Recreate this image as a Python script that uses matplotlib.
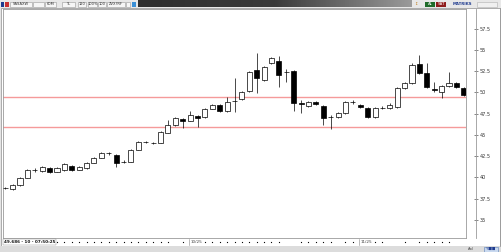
"""Candlestick screen with two support/resistance lines."""
import matplotlib
matplotlib.use("Agg")
import matplotlib.pyplot as plt
from matplotlib.patches import Rectangle
import numpy as np

# candle data (open, high, low, close)
opens = [38.75, 38.65, 39.1, 39.95, 40.85, 40.75, 41.1, 40.65, 40.9, 41.35,
         40.9, 41.1, 41.7, 42.3, 42.85, 42.65, 41.8, 41.85, 43.25, 44.15,
         44.1, 44.05, 45.25, 46.2, 46.9, 46.65, 47.25, 47.1, 48.05, 48.5,
         47.8, 49.0, 49.25, 50.2, 52.65, 51.45, 53.45, 53.7, 52.4, 52.55,
         48.75, 48.4, 48.9, 48.4, 47.1, 47.15, 47.6, 48.85, 48.55, 48.2,
         47.1, 48.15, 48.2, 48.3, 50.55, 51.1, 53.35, 52.3, 50.35, 50.05,
         50.75, 51.1, 50.5]
highs = [38.85, 39.2, 40.05, 41.0, 41.1, 41.35, 41.2, 41.2, 41.75, 41.45,
         41.3, 41.8, 42.4, 43.0, 43.05, 42.75, 42.0, 43.35, 44.3, 44.35,
         44.2, 45.45, 46.8, 47.1, 47.0, 47.8, 47.35, 48.15, 48.65, 48.6,
         49.45, 51.7, 50.2, 52.5, 54.65, 53.1, 54.15, 54.3, 52.75, 52.65,
         49.1, 49.0, 49.0, 48.5, 47.3, 47.7, 49.0, 49.1, 48.65, 48.3,
         48.3, 48.35, 48.8, 50.65, 51.2, 53.5, 54.4, 53.45, 51.25, 50.85,
         52.4, 51.2, 50.6]
lows = [38.65, 38.55, 39.0, 39.9, 40.7, 40.7, 40.55, 40.6, 40.8, 40.8,
        40.85, 41.0, 41.65, 42.25, 42.7, 41.25, 41.65, 41.8, 43.2, 44.0,
        43.9, 44.0, 45.2, 46.1, 45.8, 46.6, 45.95, 47.0, 48.0, 47.7,
        47.7, 47.7, 49.15, 50.1, 49.95, 51.35, 53.4, 50.65, 51.25, 47.8,
        47.6, 48.3, 48.55, 46.2, 45.7, 47.05, 47.5, 48.7, 48.2, 47.0,
        47.0, 48.05, 48.1, 48.2, 50.45, 51.0, 52.2, 50.55, 50.05, 49.35,
        50.65, 50.55, 49.6]
closes = [38.8, 39.1, 39.95, 40.9, 40.9, 41.25, 40.65, 41.1, 41.6, 40.9,
          41.25, 41.7, 42.3, 42.9, 42.9, 41.7, 41.85, 43.25, 44.2, 44.2,
          44.0, 45.35, 46.2, 47.0, 46.65, 47.35, 47.0, 48.05, 48.55, 47.8,
          48.9, 49.05, 50.05, 52.4, 51.7, 53.0, 54.05, 52.05, 52.45, 48.75,
          48.7, 48.9, 48.65, 47.0, 47.15, 47.6, 48.9, 48.9, 48.3, 47.1,
          48.2, 48.2, 48.55, 50.55, 51.1, 53.25, 52.3, 50.65, 50.25, 50.75,
          51.1, 50.65, 49.7]

levels = [49.47, 45.94]
price_ticks = [35, 37.5, 40, 42.5, 45, 47.5, 50, 52.5, 55, 57.5]
date_labels = ["10/25", "11/25"]
date_label_idx = [25, 48]
dot_idx = [7, 8, 9, 10, 11, 12, 13, 14, 15, 16, 17, 18, 19, 20, 21, 22, 24,
           27, 28, 29, 30, 31, 32, 33, 34, 35, 36, 37, 40, 41, 42, 43, 44,
           46, 47, 50, 51, 54, 56, 57, 58, 59, 60]
status_text = "49.686 - 10 - 07:50:25"

W, H = 502, 252
fig = plt.figure(figsize=(W / 100, H / 100), dpi=100)
fig.patch.set_facecolor("#e4e4e4")

# frame / toolbar, drawn in pixel coordinates
bg = fig.add_axes([0, 0, 1, 1])
bg.set_xlim(0, W)
bg.set_ylim(H, 0)
bg.axis("off")
bg.add_patch(Rectangle((1, 8), 499, 238, fc="white", ec="#a0a0a0", lw=0.6))
bg.add_patch(Rectangle((0, 0), W, 8, fc="#e8e8e8", ec="none"))
grad = np.linspace(0, 1, 200).reshape(1, -1)
bg.imshow(grad, cmap=matplotlib.colors.LinearSegmentedColormap.from_list(
    "bar", ["#2e2e2e", "#3a3a3a", "#9a9a9a"]),
    extent=(138, 412, 7.5, 0.5), aspect="auto", zorder=1)
for x0, w, txt in [(10, 22, "SASAXW"), (33, 11, ""), (45, 11, "60M"),
                   (62, 13, "TL"), (78, 8, "120"), (88, 9, "100%"),
                   (98, 8, "100"), (107, 18, "ZVX?RF"), (126, 4, "")]:
    bg.add_patch(Rectangle((x0, 1.5), w, 5, fc="#f6f6f6", ec="#9a9a9a", lw=0.4))
    bg.text(x0 + w / 2, 4.2, txt, fontsize=2.6, ha="center", va="center",
            color="#333333")
bg.add_patch(Rectangle((1, 1.5), 3.5, 5, fc="#1f3b8f", ec="none"))
bg.add_patch(Rectangle((5.5, 1.5), 3.5, 5, fc="#c83030", ec="none"))
bg.add_patch(Rectangle((132, 1.5), 4, 5, fc="#3a8fd6", ec="none"))
bg.add_patch(Rectangle((425, 1.5), 10, 5, fc="#1f6b2a", ec="none"))
bg.text(430, 4.2, "AL", fontsize=2.8, ha="center", va="center", color="white")
bg.add_patch(Rectangle((436, 1.5), 10, 5, fc="#8e1b1b", ec="none"))
bg.text(441, 4.2, "SAT", fontsize=2.8, ha="center", va="center", color="white")
bg.text(462, 4.2, "MATRIKS", fontsize=2.8, ha="center", va="center",
        color="#1f3b8f", fontweight="bold")
bg.add_patch(Rectangle((477, 1.5), 20, 5, fc="#f0f0f0", ec="#b0b0b0", lw=0.4))
bg.text(416, 4.2, "\u2195", fontsize=3, ha="center", va="center", color="#c08020")
# status bar
bg.add_patch(Rectangle((0, 246), W, 6, fc="#dcdcdc", ec="none"))
bg.text(468, 249.3, "Anl", fontsize=2.6, ha="left", va="center", color="#444444")
bg.add_patch(Rectangle((484, 246.5), 14, 5, fc="#c9d9ef", ec="#5a7fb8", lw=0.4))
bg.text(491, 249.2, "%\u25a0\u25a0", fontsize=2.6, ha="center", va="center",
        color="#1f3b8f")
bg.plot([500, 500], [8, 246], color="#9a9a9a", lw=0.6)

# main candle panel
ax_l, ax_b, ax_w, ax_h = 3 / W, (H - 238) / H, 463 / W, 229 / H
ax = fig.add_axes([ax_l, ax_b, ax_w, ax_h])
ax.set_facecolor("white")
n = len(opens)
xs = np.arange(n)
o = np.array(opens)
c = np.array(closes)
up = c >= o
ax.vlines(xs, lows, highs, color="black", lw=0.5, zorder=2)
body_lo = np.minimum(o, c)
body_h = np.maximum(np.abs(c - o), 0.02)
ax.bar(xs, body_h, bottom=body_lo, width=0.68,
       color=np.where(up, "white", "black"), edgecolor="black", lw=0.5,
       zorder=3)
for lv in levels:
    ax.axhline(lv, color="#f59a9a", lw=1.0, zorder=1)
ax.set_xlim(-0.3, 62.3)
ax.set_ylim(32.88, 59.82)
ax.set_xticks([])
ax.set_yticks([])
for s in ["top", "bottom", "left", "right"]:
    ax.spines[s].set_color("#9a9a9a")
    ax.spines[s].set_linewidth(0.6)

# price scale
axp = fig.add_axes([476 / W, ax_b, 0.0001, ax_h])
axp.set_ylim(ax.get_ylim())
axp.set_xticks([])
axp.set_yticks(price_ticks)
axp.set_yticklabels([("%g" % t) for t in price_ticks])
axp.tick_params(axis="y", direction="inout", length=2.5, width=0.5,
                color="#555555", left=True, right=False, labelleft=False,
                labelright=True, labelsize=3.6, pad=1.5, labelcolor="#333333")
for s in ["top", "bottom", "right"]:
    axp.spines[s].set_visible(False)
axp.spines["left"].set_color("#9a9a9a")
axp.spines["left"].set_linewidth(0.6)
axp.axhline(closes[-1], xmin=-1, color="#2aa7a7", lw=0.6)

# date strip
axd = fig.add_axes([ax_l, (H - 246) / H, ax_w, 8 / H])
axd.set_xlim(ax.get_xlim())
axd.set_ylim(0, 1)
axd.axis("off")
axd.scatter(dot_idx, [0.5] * len(dot_idx), s=0.8, color="black", lw=0)
for lbl, i in zip(date_labels, date_label_idx):
    axd.axvline(i - 0.1, ymin=0.1, ymax=0.9, color="#888888", lw=0.4)
    axd.text(i + 0.1, 0.5, lbl, fontsize=3, ha="left", va="center",
             color="#444444")
axd.text(-0.2, 0.5, status_text, fontsize=3, ha="left", va="center",
         color="#111111", fontweight="bold",
         bbox=dict(fc="white", ec="#888888", lw=0.3, pad=0.5))

fig.savefig("out.png", dpi=100, facecolor=fig.get_facecolor())
